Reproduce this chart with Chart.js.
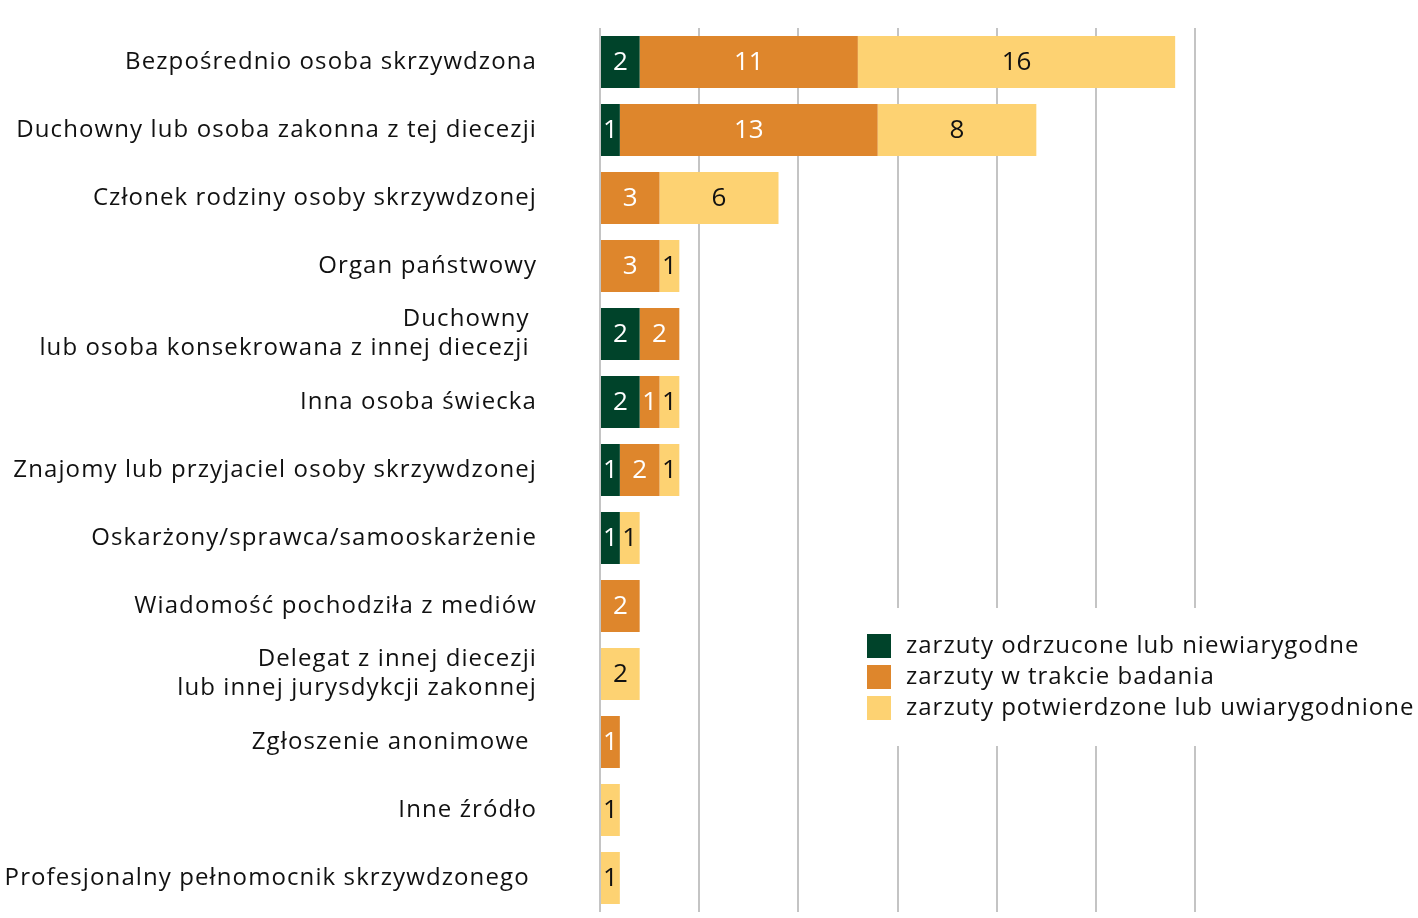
<!DOCTYPE html>
<html>
<head>
<meta charset="utf-8">
<script src="https://cdn.jsdelivr.net/npm/chart.js@4.4.0/dist/chart.umd.min.js"></script>
<style>
  html, body { margin: 0; padding: 0; background: #ffffff; }
  #wrap { position: relative; width: 1418px; height: 918px; }
</style>
</head>
<body>
<div id="wrap"><canvas id="chart" width="1418" height="918"></canvas></div>
<script>
// Data
const categories = [
  "Bezpośrednio osoba skrzywdzona",
  "Duchowny lub osoba zakonna z tej diecezji",
  "Członek rodziny osoby skrzywdzonej",
  "Organ państwowy",
  ["Duchowny ", "lub osoba konsekrowana z innej diecezji "],
  "Inna osoba świecka",
  "Znajomy lub przyjaciel osoby skrzywdzonej",
  "Oskarżony/sprawca/samooskarżenie",
  "Wiadomość pochodziła z mediów",
  ["Delegat z innej diecezji", "lub innej jurysdykcji zakonnej"],
  "Zgłoszenie anonimowe ",
  "Inne źródło",
  "Profesjonalny pełnomocnik skrzywdzonego "
]
const rejected  = [2, 1, 0, 0, 2, 2, 1, 1, 0, 0, 0, 0, 0]
const inProgress = [11, 13, 3, 3, 2, 1, 2, 0, 2, 0, 1, 0, 0]
const confirmed = [16, 8, 6, 1, 0, 1, 1, 1, 0, 2, 0, 1, 1]
const seriesNames = [
  "zarzuty odrzucone lub niewiarygodne",
  "zarzuty w trakcie badania",
  "zarzuty potwierdzone lub uwiarygodnione"
]
const xTicks = [0, 5, 10, 15, 20, 25, 30]

const colors = ["#00432a", "#de862c", "#fdd272"]
const labelColors = ["#ffffff", "#ffffff", "#111111"]
const FONT = "'Open Sans', Lato, sans-serif"

// The original typeface is wider, so the tick labels get a little tracking
const tracking = {
  id: "tracking",
  beforeDraw(chart) { chart.ctx.letterSpacing = "1.1px" }
}

// Draws the value inside each bar segment
const valueLabels = {
  id: "valueLabels",
  afterDatasetsDraw(chart) {
    const ctx = chart.ctx
    ctx.save()
    ctx.letterSpacing = "0px"
    ctx.font = "26px " + FONT
    ctx.textAlign = "center"
    ctx.textBaseline = "middle"
    chart.data.datasets.forEach((ds, i) => {
      const meta = chart.getDatasetMeta(i)
      meta.data.forEach((bar, j) => {
        const v = ds.data[j]
        if (!v) return
        ctx.fillStyle = labelColors[i]
        ctx.fillText(String(v), (bar.x + bar.base) / 2, bar.y + 1)
      })
    })
    ctx.restore()
  }
}

// Legend drawn on a white box inside the plot area
const boxLegend = {
  id: "boxLegend",
  afterDraw(chart) {
    const ctx = chart.ctx
    ctx.save()
    ctx.fillStyle = "#ffffff"
    ctx.fillRect(855, 608, 563, 138)
    ctx.letterSpacing = "1px"
    ctx.font = "24px " + FONT
    ctx.textBaseline = "middle"
    chart.data.datasets.forEach((ds, i) => {
      const y = 634 + i * 31
      ctx.fillStyle = ds.backgroundColor
      ctx.fillRect(867, y, 24, 24)
      ctx.fillStyle = "#111111"
      ctx.fillText(ds.label, 906, y + 12)
    })
    ctx.restore()
  }
}

new Chart(document.getElementById("chart"), {
  type: "bar",
  data: {
    labels: categories,
    datasets: [
      { label: seriesNames[0], data: rejected, backgroundColor: colors[0] },
      { label: seriesNames[1], data: inProgress, backgroundColor: colors[1] },
      { label: seriesNames[2], data: confirmed, backgroundColor: colors[2] }
    ]
  },
  options: {
    indexAxis: "y",
    responsive: false,
    animation: false,
    layout: { padding: { top: 28, bottom: 6, left: 0, right: 223 } },
    categoryPercentage: 0.765,
    barPercentage: 1,
    plugins: {
      legend: { display: false },
      tooltip: { enabled: false }
    },
    scales: {
      x: {
        stacked: true,
        min: 0,
        max: 30,
        afterBuildTicks(scale) {
          scale.ticks = xTicks.map(v => ({ value: v }))
        },
        afterFit(scale) { scale.height = 0 },
        ticks: { display: false },
        border: { display: false },
        grid: { color: "#c4c4c4", lineWidth: 2, drawTicks: false }
      },
      y: {
        stacked: true,
        afterFit(scale) {
          scale.width = 600
          // tick padding is meant only for the horizontal gap
          scale.paddingTop = 0
          scale.paddingBottom = 0
        },
        ticks: {
          color: "#111111",
          padding: 63,
          font: { family: FONT, size: 24, lineHeight: 1.2 }
        },
        border: { display: false },
        grid: { display: false, drawTicks: false }
      }
    }
  },
  plugins: [tracking, valueLabels, boxLegend]
})
</script>
</body>
</html>
